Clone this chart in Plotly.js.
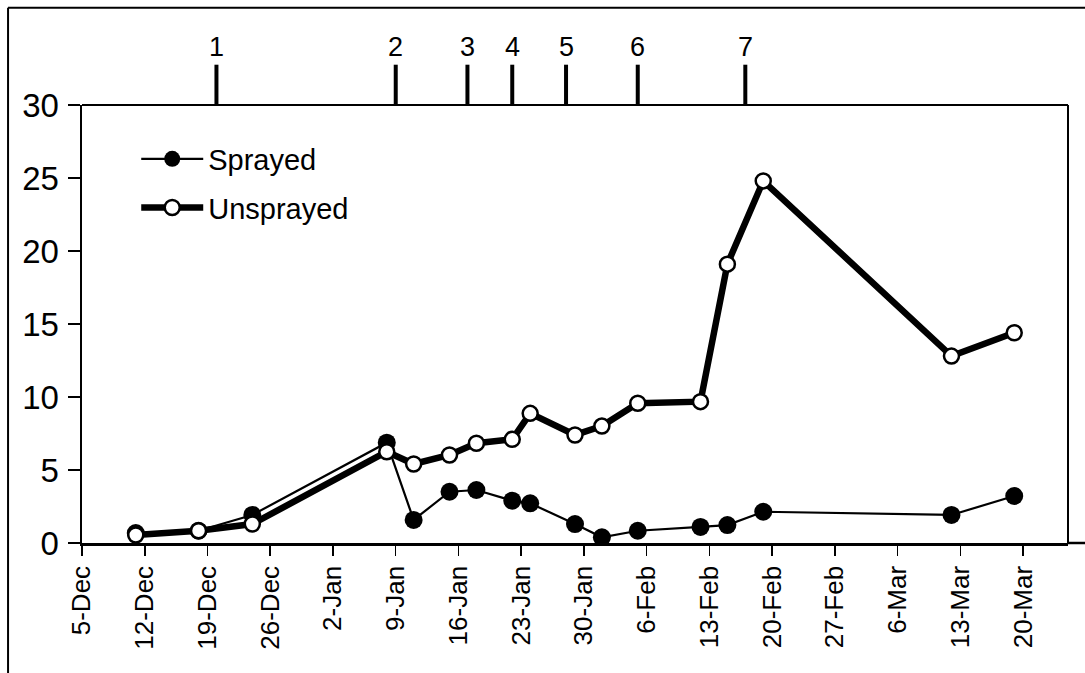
<!DOCTYPE html>
<html>
<head>
<meta charset="utf-8">
<script src="https://cdn.plot.ly/plotly-3.0.1.min.js"></script>
<style>html,body{margin:0;padding:0;background:#fff;}#chart{width:1085px;height:673px;}</style>
</head>
<body>
<div id="chart"></div>
<script>
// ---- data ----
const sampleDates = ['2001-12-11','2001-12-18','2001-12-24','2002-01-08','2002-01-11','2002-01-15','2002-01-18','2002-01-22','2002-01-24','2002-01-29','2002-02-01','2002-02-05','2002-02-12','2002-02-15','2002-02-19','2002-03-12','2002-03-19'];
const sprayed   = [0.68,0.84,1.92,6.87,1.58,3.51,3.63,2.90,2.72,1.30,0.39,0.84,1.10,1.23,2.14,1.92,3.22];
const unsprayed = [0.55,0.84,1.30,6.25,5.41,6.03,6.83,7.10,8.88,7.40,8.01,9.57,9.68,19.1,24.8,12.8,14.4];
const sprayDates  = ['2001-12-20','2002-01-09','2002-01-17','2002-01-22','2002-01-28','2002-02-05','2002-02-17'];
const sprayLabels = ['1','2','3','4','5','6','7'];
const tickDates  = ['2001-12-05','2001-12-12','2001-12-19','2001-12-26','2002-01-02','2002-01-09','2002-01-16','2002-01-23','2002-01-30','2002-02-06','2002-02-13','2002-02-20','2002-02-27','2002-03-06','2002-03-13','2002-03-20'];
const tickLabels = ['5-Dec','12-Dec','19-Dec','26-Dec','2-Jan','9-Jan','16-Jan','23-Jan','30-Jan','6-Feb','13-Feb','20-Feb','27-Feb','6-Mar','13-Mar','20-Mar'];
const yTicks = [0,5,10,15,20,25,30];

const FONT = 'Liberation Sans, Arial, Helvetica, sans-serif';

const traces = [
  {
    x: sampleDates, y: sprayed, name: 'Sprayed', type: 'scatter', mode: 'lines+markers',
    legendgroup: 'a',
    line: {color: '#000', width: 2.2},
    marker: {symbol: 'circle', size: 18, color: '#000', line: {color: '#000', width: 0}}
  },
  {
    x: sampleDates, y: unsprayed, name: 'Unsprayed', type: 'scatter', mode: 'lines+markers',
    legendgroup: 'b',
    line: {color: '#000', width: 6.5},
    marker: {symbol: 'circle', size: 15, color: '#fff', line: {color: '#000', width: 2.5}}
  }
];

const shapes = [];
const annotations = [];
sprayDates.forEach((d, i) => {
  shapes.push({type: 'line', xref: 'x', yref: 'paper', x0: d, x1: d, y0: 1, y1: 1.092,
               line: {color: '#000', width: 4}});
  annotations.push({xref: 'x', yref: 'paper', x: d, y: 1.132, text: sprayLabels[i], showarrow: false,
                    xanchor: 'center', yanchor: 'middle', font: {family: FONT, size: 27, color: '#000'}});
});
// outer figure frame (top and left edges of the scanned figure)
shapes.push({type: 'line', xref: 'paper', yref: 'paper', x0: -0.075, x1: 1.03, y0: 1.222, y1: 1.222, line: {color: '#000', width: 2}});
shapes.push({type: 'line', xref: 'paper', yref: 'paper', x0: -0.075, x1: -0.075, y0: 1.222, y1: -0.32, line: {color: '#000', width: 2}});
// plot frame: top, right, and x-axis extension to the right
shapes.push({type: 'line', xref: 'paper', yref: 'paper', x0: 0, x1: 1, y0: 1, y1: 1, line: {color: '#000', width: 2}});
shapes.push({type: 'line', xref: 'paper', yref: 'paper', x0: 1, x1: 1, y0: 0, y1: 1, line: {color: '#000', width: 2}});
shapes.push({type: 'line', xref: 'paper', yref: 'paper', x0: 1, x1: 1.03, y0: 0, y1: 0, line: {color: '#000', width: 2.5}});

const layout = {
  width: 1085, height: 673,
  margin: {l: 82, r: 17, t: 105, b: 130, pad: 0},
  paper_bgcolor: '#fff', plot_bgcolor: '#fff',
  showlegend: true,
  legend: {
    x: 0.055, y: 0.935, xanchor: 'left', yanchor: 'top',
    bgcolor: 'rgba(0,0,0,0)', borderwidth: 0,
    font: {family: FONT, size: 29, color: '#000'},
    traceorder: 'grouped', tracegroupgap: 8, itemwidth: 62
  },
  xaxis: {
    type: 'date', range: ['2001-12-05', '2002-03-25'],
    tickmode: 'array', tickvals: tickDates, ticktext: tickLabels, tickangle: -90,
    ticks: 'outside', ticklen: 10, tickwidth: 1.5, tickcolor: '#000',
    showline: true, linecolor: '#000', linewidth: 2.5, mirror: false,
    showgrid: false, zeroline: false,
    tickfont: {family: FONT, size: 26, color: '#000'}
  },
  yaxis: {
    range: [0, 30], tickmode: 'array', tickvals: yTicks,
    ticks: 'outside', ticklen: 12, tickwidth: 1.5, tickcolor: '#000',
    showline: true, linecolor: '#000', linewidth: 2.5, mirror: false,
    showgrid: false, zeroline: false, ticklabelstandoff: 2,
    tickfont: {family: FONT, size: 33, color: '#000'}
  },
  shapes: shapes,
  annotations: annotations
};

Plotly.newPlot('chart', traces, layout, {displayModeBar: false, staticPlot: true});
</script>
</body>
</html>
